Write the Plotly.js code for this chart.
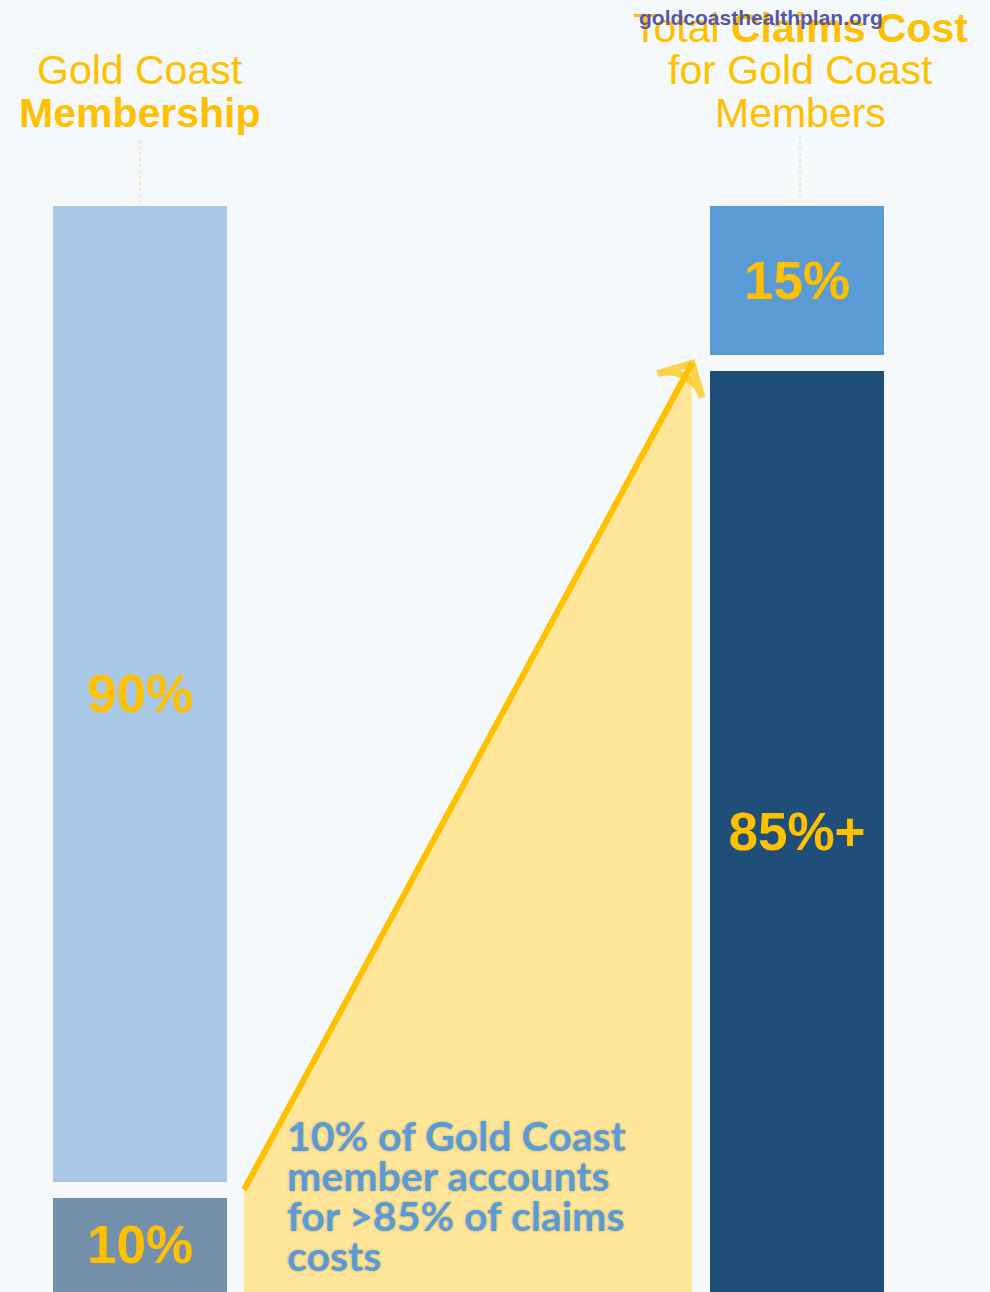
<!DOCTYPE html>
<html>
<head>
<meta charset="utf-8">
<script src="https://cdn.plot.ly/plotly-3.0.1.min.js"></script>
<style>
html,body{margin:0;padding:0;background:#f5f9fc;}
#chart{width:990px;height:1292px;}
</style>
</head>
<body>
<div id="chart"></div>
<script>
// ---- data ----
const groups = [0, 1];                       // 0 = Membership, 1 = Claims cost
const groupNames = ['Gold Coast Membership', 'Total Claims Cost for Gold Coast Members'];
const bottomValues = [10, 85];               // top-10% members / their share of claims
const topValues = [90, 15];                  // remaining 90% members / remaining claims
const bottomLabels = ['10%', '85%+'];
const topLabels = ['90%', '15%'];
const noteLines = ['10% of Gold Coast', 'member accounts', 'for >85% of claims', 'costs'];

// ---- style / layout constants ----
const W = 990, H = 1292;
const BG = '#f5f9fc';
const GOLD = '#ffc000';
const pxPerX = 657, x0px = 140;             // horizontal scale
const topPx = 198, zeroPx = 1300;            // vertical scale (100 -> topPx, 0 -> zeroPx)
const pxPerY = (zeroPx - topPx) / 100;
const xRange = [-x0px / pxPerX, (W - x0px) / pxPerX];
const yRange = [(zeroPx - H) / pxPerY, 100 + topPx / pxPerY];
const gap = 16;
const barW = (174 + gap) / pxPerX;
const xl = (244 - x0px) / pxPerX;
const xr = (692 - x0px) / pxPerX;
const py = p => 1 - p / H;

const labelFont = {family: 'Liberation Sans, Arial, sans-serif', size: 53, color: GOLD, weight: 'bold'};

const traces = [
  {
    type: 'bar', x: groups, y: bottomValues, width: barW,
    marker: {color: ['#7491ab', '#1f4e79'], line: {color: BG, width: gap}},
    text: bottomLabels.map(t => '<b>' + t + '</b>'), textposition: 'inside', insidetextanchor: 'middle',
    textangle: 0, textfont: labelFont, hoverinfo: 'skip', constraintext: 'none'
  },
  {
    type: 'bar', x: groups, y: topValues, width: barW,
    marker: {color: ['#a9c8e6', '#5b9bd5'], line: {color: BG, width: gap}},
    text: topLabels.map(t => '<b>' + t + '</b>'), textposition: 'inside', insidetextanchor: 'middle',
    textangle: 0, textfont: labelFont, hoverinfo: 'skip', constraintext: 'none'
  },
  {
    type: 'scatter', mode: 'lines', x: [xl, xl, xr, xr], y: [0, bottomValues[0], bottomValues[1], 0],
    fill: 'toself', fillcolor: '#ffe699', line: {width: 0}, hoverinfo: 'skip'
  },
  {
    type: 'scatter', mode: 'lines+markers', x: [xl, xr], y: [bottomValues[0], bottomValues[1]],
    line: {color: GOLD, width: 6},
    marker: {symbol: 'arrow-wide-open', size: [0, 36], angleref: 'previous', color: GOLD,
             line: {color: GOLD, width: 7}},
    hoverinfo: 'skip'
  }
];

const hdrFont = {family: 'Liberation Sans, Arial, sans-serif', size: 41, color: GOLD};
const noteFont = {family: 'Lato, sans-serif', size: 41, color: '#5b9bd5', weight: 'bold',
                  shadow: '0 0 3px rgba(140,130,90,0.6)'};

const annotations = [
  {xref: 'x', yref: 'paper', x: groups[0], y: py(70), text: 'Gold Coast', showarrow: false, font: hdrFont, xanchor: 'center', yanchor: 'middle'},
  {xref: 'x', yref: 'paper', x: groups[0], y: py(113), text: '<b>Membership</b>', showarrow: false, font: hdrFont, xanchor: 'center', yanchor: 'middle'},
  {xref: 'paper', yref: 'paper', x: 800 / W, y: py(28), text: 'Total <b>Claims Cost</b>', showarrow: false, font: hdrFont, xanchor: 'center', yanchor: 'middle'},
  {xref: 'paper', yref: 'paper', x: 800 / W, y: py(70), text: 'for Gold Coast', showarrow: false, font: hdrFont, xanchor: 'center', yanchor: 'middle'},
  {xref: 'paper', yref: 'paper', x: 800 / W, y: py(113), text: 'Members', showarrow: false, font: hdrFont, xanchor: 'center', yanchor: 'middle'},
  {xref: 'paper', yref: 'paper', x: 761 / W, y: py(17), text: '<b>goldcoasthealthplan.org</b>', showarrow: false,
   font: {family: 'Liberation Sans, Arial, sans-serif', size: 21, color: '#5657a8'}, xanchor: 'center', yanchor: 'middle'}
];
noteLines.forEach((t, i) => {
  annotations.push({xref: 'paper', yref: 'paper', x: 285 / W, y: py(1135 + i * 40), text: t, showarrow: false,
    xanchor: 'left', yanchor: 'middle', font: noteFont});
});

const shapes = [
  {type: 'line', xref: 'x', yref: 'paper', x0: groups[0], x1: groups[0], y0: py(140), y1: py(202),
   line: {color: '#f5d68c', width: 1, dash: 'dot'}},
  {type: 'line', xref: 'paper', yref: 'paper', x0: 800 / W, x1: 800 / W, y0: py(135), y1: py(198),
   line: {color: '#f5d68c', width: 1, dash: 'dot'}}
];

const layout = {
  width: W, height: H,
  margin: {l: 0, r: 0, t: 0, b: 0},
  paper_bgcolor: BG, plot_bgcolor: BG,
  barmode: 'stack', showlegend: false,
  xaxis: {range: xRange, visible: false, fixedrange: true},
  yaxis: {range: yRange, visible: false, fixedrange: true},
  annotations: annotations, shapes: shapes
};

Plotly.newPlot('chart', traces, layout, {staticPlot: true});
</script>
</body>
</html>
